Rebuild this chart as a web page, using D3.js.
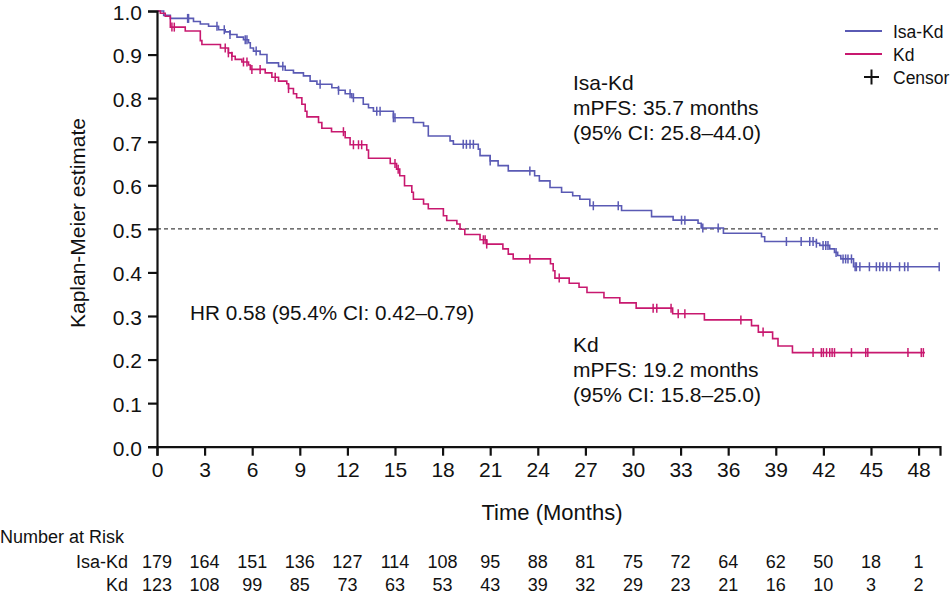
<!DOCTYPE html>
<html><head><meta charset="utf-8">
<script src="https://cdn.jsdelivr.net/npm/d3@7"></script>
<style>
body{margin:0;background:#fff}
text{font-family:"Liberation Sans",Arial,Helvetica,sans-serif;fill:#111}
</style>
</head><body><svg id="c" width="950" height="594"></svg>
<script>
// ---- data ----
const groups = ["Isa-Kd", "Kd"];
const colors = ["#5a5ab4", "#c8186f"];
const isaTimes = [0,0.42,0.84,2.3,2.73,3.25,3.88,4.3,4.6,5.04,5.45,5.77,5.88,6.08,6.5,6.93,7.66,8.08,8.6,9.23,9.65,10.08,11.02,11.44,11.86,12.28,13.0,13.33,13.64,14.9,16.16,16.8,17.1,18.47,18.68,20.25,20.36,21.0,21.5,22.14,23.8,24.1,24.77,25.5,26.2,26.65,27.28,29.28,31.17,32.53,34.1,34.3,35.7,38.1,38.3,41.56,41.77,42.4,42.7,42.9,43.1,43.9];
const isaSurv  = [1.0,0.99,0.983,0.976,0.970,0.965,0.957,0.952,0.946,0.940,0.934,0.927,0.915,0.908,0.900,0.881,0.873,0.864,0.858,0.851,0.839,0.832,0.824,0.818,0.810,0.801,0.786,0.778,0.770,0.755,0.744,0.736,0.713,0.702,0.694,0.683,0.668,0.656,0.645,0.633,0.622,0.610,0.595,0.584,0.576,0.568,0.553,0.542,0.528,0.520,0.513,0.502,0.490,0.482,0.471,0.467,0.462,0.454,0.446,0.439,0.431,0.413];
const isaEnd = 49.3;
const isaCensor = [1.93,1.99,3.78,4.24,4.6,5.56,5.67,6.25,7.93,10.28,11.44,12.17,12.38,13.85,14.06,14.9,15.0,19.3,19.5,19.73,19.94,21.0,23.5,27.5,29.07,33.06,33.27,34.4,35.37,39.67,40.6,41.14,41.35,41.56,41.98,42.15,42.29,42.8,43.24,43.4,43.55,43.77,44.0,44.08,44.3,44.9,45.34,45.55,45.76,46.0,46.22,46.8,47.12,47.33,49.3];
const kdTimes = [0,0.21,0.52,0.84,1.78,2.73,2.83,4.0,4.5,4.72,4.93,5.35,5.77,5.88,6.82,7.24,7.66,8.18,8.29,8.6,8.8,9.13,9.34,9.45,10.18,10.39,11.0,11.86,12.17,13.22,13.33,14.7,15.1,15.3,15.6,16.06,16.16,16.8,17.1,18.05,18.26,18.9,19.1,19.4,20.36,20.78,21.8,22.14,22.45,24.8,24.97,25.08,25.98,26.6,27.1,28.17,29.17,30.2,32.5,34.5,37.47,37.9,38.8,39.14,40.05];
const kdSurv  = [1.0,0.995,0.988,0.963,0.954,0.932,0.923,0.915,0.904,0.896,0.889,0.883,0.876,0.866,0.858,0.848,0.839,0.833,0.822,0.810,0.801,0.786,0.770,0.757,0.744,0.731,0.723,0.709,0.693,0.681,0.662,0.650,0.637,0.622,0.599,0.584,0.568,0.557,0.546,0.530,0.519,0.511,0.499,0.487,0.475,0.465,0.454,0.442,0.431,0.420,0.404,0.387,0.375,0.366,0.354,0.342,0.330,0.318,0.305,0.291,0.278,0.263,0.248,0.231,0.216];
const kdEnd = 48.4;
const kdCensor = [0.94,1.09,4.3,4.5,4.72,5.45,5.67,5.98,6.5,7.45,8.29,11.75,12.38,12.7,12.9,15.0,15.2,20.57,20.68,20.78,23.5,25.35,31.27,31.5,32.4,32.85,33.27,36.8,38.2,41.35,41.87,42.0,42.2,42.4,42.55,42.7,43.77,44.67,44.8,47.33,48.17,48.3];
const xTickVals = [0,3,6,9,12,15,18,21,24,27,30,33,36,39,42,45,48];
const yTickVals = [0,0.1,0.2,0.3,0.4,0.5,0.6,0.7,0.8,0.9,1.0];
const riskIsa = [179,164,151,136,127,114,108,95,88,81,75,72,64,62,50,18,1];
const riskKd  = [123,108,99,85,73,63,53,43,39,32,29,23,21,16,10,3,2];
const medians = [{label:"Isa-Kd", m:"mPFS: 35.7 months", ci:"(95% CI: 25.8\u201344.0)"},
                 {label:"Kd", m:"mPFS: 19.2 months", ci:"(95% CI: 15.8\u201325.0)"}];
const hrText = "HR 0.58 (95.4% CI: 0.42\u20130.79)";

// ---- chart ----
const svg = d3.select("#c");
const x = d3.scaleLinear().domain([0, 49.35]).range([157, 940]);
const y = d3.scaleLinear().domain([0, 1]).range([446.7, 11]);

// reference line at 0.5
svg.append("line").attr("x1", x(0)).attr("x2", x(49.35)).attr("y1", y(0.5)).attr("y2", y(0.5))
  .attr("stroke", "#444").attr("stroke-width", 1.2).attr("stroke-dasharray", "4,3");

const series = [
  {times: isaTimes, surv: isaSurv, end: isaEnd, cens: isaCensor},
  {times: kdTimes, surv: kdSurv, end: kdEnd, cens: kdCensor}
];
const line = d3.line().x(d => x(d[0])).y(d => y(d[1])).curve(d3.curveStepAfter);
function survAt(s, t){ let v = s.surv[0]; for (let i=0;i<s.times.length;i++){ if (s.times[i] <= t) v = s.surv[i]; } return v; }

series.forEach((s, i) => {
  const pts = s.times.map((t, j) => [t, s.surv[j]]);
  pts.push([s.end, s.surv[s.surv.length-1]]);
  svg.append("path").datum(pts).attr("d", line).attr("fill", "none")
    .attr("stroke", colors[i]).attr("stroke-width", 1.6);
  svg.append("g").selectAll("line").data(s.cens).join("line")
    .attr("x1", d => x(d)).attr("x2", d => x(d))
    .attr("y1", d => y(survAt(s, d)) - 4.5).attr("y2", d => y(survAt(s, d)) + 4.5)
    .attr("stroke", colors[i]).attr("stroke-width", 1.5);
});

// axes
const xAxis = svg.append("g").attr("transform", `translate(0,${y(0)})`)
  .call(d3.axisBottom(x).tickValues(xTickVals).tickSizeOuter(0).tickSize(9).tickPadding(6));
const yAxis = svg.append("g").attr("transform", `translate(${x(0)},0)`)
  .call(d3.axisLeft(y).tickValues(yTickVals).tickFormat(d3.format(".1f")).tickSizeOuter(0).tickSize(9).tickPadding(6));
[xAxis, yAxis].forEach(g => {
  g.select(".domain").attr("stroke", "#111").attr("stroke-width", 2.2);
  g.selectAll(".tick line").attr("stroke", "#111").attr("stroke-width", 2.2);
  g.selectAll(".tick text").attr("font-size", 21).attr("fill", "#111")
    .style("font-family", '"Liberation Sans",Arial,sans-serif');
});
yAxis.selectAll(".tick text").attr("dy", "0.4em");

// axis titles
svg.append("text").attr("x", 552).attr("y", 520).attr("text-anchor", "middle").attr("font-size", 22).text("Time (Months)");
svg.append("text").attr("transform", `translate(85,223) rotate(-90)`).attr("text-anchor", "middle").attr("font-size", 21).text("Kaplan-Meier estimate");

// annotations
const ann = [[90, 0], [352, 1]];
ann.forEach(([by, gi]) => {
  const m = medians[gi];
  [m.label, m.m, m.ci].forEach((t, k) => {
    svg.append("text").attr("x", 573).attr("y", by + k * 25).attr("font-size", 21).text(t);
  });
});
svg.append("text").attr("x", 190).attr("y", 320).attr("font-size", 20.7).text(hrText);

// legend
groups.forEach((g, i) => {
  const ly = 31 + i * 23;
  svg.append("line").attr("x1", 845).attr("x2", 882).attr("y1", ly).attr("y2", ly).attr("stroke", colors[i]).attr("stroke-width", 2);
  svg.append("text").attr("x", 893).attr("y", ly + 7).attr("font-size", 17.5).text(g);
});
svg.append("line").attr("x1", 864).attr("x2", 879).attr("y1", 77).attr("y2", 77).attr("stroke", "#111").attr("stroke-width", 2);
svg.append("line").attr("x1", 871.5).attr("x2", 871.5).attr("y1", 69.5).attr("y2", 84.5).attr("stroke", "#111").attr("stroke-width", 2);
svg.append("text").attr("x", 893).attr("y", 84).attr("font-size", 17.5).text("Censor");

// number at risk
svg.append("text").attr("x", 0).attr("y", 543).attr("font-size", 18).text("Number at Risk");
[[riskIsa, 568], [riskKd, 591]].forEach(([arr, by], i) => {
  svg.append("text").attr("x", 128).attr("y", by).attr("text-anchor", "end").attr("font-size", 18).text(groups[i]);
  svg.append("g").selectAll("text").data(arr).join("text")
    .attr("x", (d, j) => x(xTickVals[j])).attr("y", by).attr("text-anchor", "middle").attr("font-size", 18).text(d => d);
});
</script>
</body></html>
